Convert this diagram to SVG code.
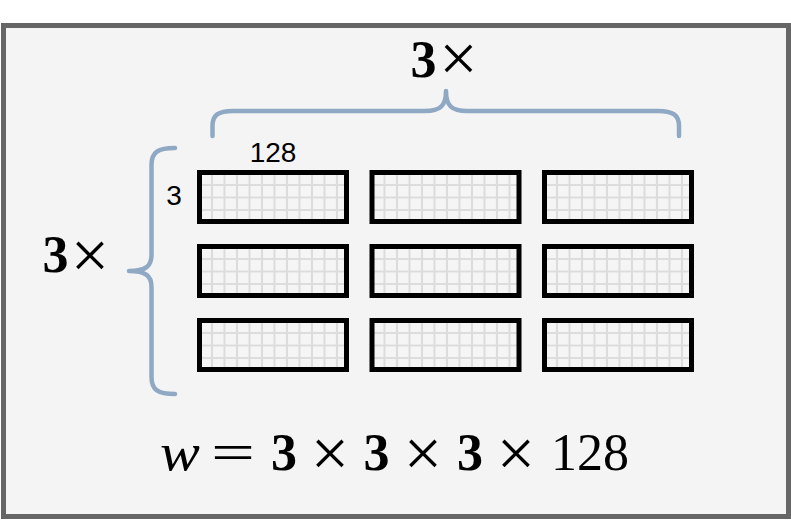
<svg xmlns="http://www.w3.org/2000/svg" width="791" height="521" viewBox="0 0 791 521">
<defs>
<style>
.brace{fill:none;stroke:#8fa9c4;stroke-width:4.5;stroke-linecap:round;stroke-linejoin:round}
.blk{fill:url(#grid);stroke:#000;stroke-width:5}
.math{font-family:"Liberation Serif","Times New Roman",serif;font-size:52px;fill:#000;text-anchor:middle}
.b{font-weight:bold}
.x{font-size:68px}
.lbl{font-family:"Liberation Sans",Arial,sans-serif;font-size:28px;fill:#000;text-anchor:middle}
</style>
<pattern id="grid" patternUnits="userSpaceOnUse" width="12.5" height="12.5">
<rect width="12.5" height="12.5" fill="#f5f5f5"/>
<path d="M0 0H12.5M0 12.5H12.5M0 0V12.5M12.5 0V12.5" stroke="#dcdcdc" stroke-width="2" fill="none"/>
</pattern>
</defs>
<rect x="0" y="0" width="791" height="521" fill="#ffffff"/>
<rect x="3.5" y="25.5" width="785" height="491" fill="#f4f4f4" stroke="#666666" stroke-width="5"/>

<g id="connectors">
<path class="brace" d="M212.5,136 L212.5,126 C212.5,115 218,111 233,111 L425,111 C440,111 446,106 446,91 C446,106 452,111 467,111 L658,111 C673,111 679,115 679,126 L679,136"/>
<path class="brace" d="M175,148 C158,148 151.5,152 151.5,165 L151.5,255 C151.5,266 146,271 129,271 C146,271 151.5,276 151.5,287 L151.5,377 C151.5,390 158,394 175,394"/>
</g>

<g id="block-r1c1" transform="translate(199.5,172.5)"><rect class="blk" width="147" height="49"/></g>
<g id="block-r1c2" transform="translate(372,172.5)"><rect class="blk" width="147" height="49"/></g>
<g id="block-r1c3" transform="translate(544.5,172.5)"><rect class="blk" width="147" height="49"/></g>
<g id="block-r2c1" transform="translate(199.5,246.5)"><rect class="blk" width="147" height="49"/></g>
<g id="block-r2c2" transform="translate(372,246.5)"><rect class="blk" width="147" height="49"/></g>
<g id="block-r2c3" transform="translate(544.5,246.5)"><rect class="blk" width="147" height="49"/></g>
<g id="block-r3c1" transform="translate(199.5,320.5)"><rect class="blk" width="147" height="49"/></g>
<g id="block-r3c2" transform="translate(372,320.5)"><rect class="blk" width="147" height="49"/></g>
<g id="block-r3c3" transform="translate(544.5,320.5)"><rect class="blk" width="147" height="49"/></g>

<g id="label-128"><text class="lbl" x="273" y="162">128</text></g>
<g id="label-3"><text class="lbl" x="174" y="205">3</text></g>

<g id="label-top">
<text class="math b" x="423.5" y="77">3</text>
<text class="math x" x="458.5" y="81">×</text>
</g>
<g id="label-left">
<text class="math b" x="55.5" y="272">3</text>
<text class="math x" x="90" y="277.5">×</text>
</g>

<g id="equation">
<text class="math" transform="translate(180,470) scale(1.15,1)" font-style="italic">w</text>
<text class="math" transform="translate(233,470) scale(1.5,1)">=</text>
<text class="math b" x="284" y="470">3</text>
<text class="math x" x="330" y="475.5">×</text>
<text class="math b" x="376.5" y="470">3</text>
<text class="math x" x="423" y="475.5">×</text>
<text class="math b" x="470" y="470">3</text>
<text class="math x" x="516" y="475.5">×</text>
<text class="math" x="590" y="470">128</text>
</g>
</svg>
